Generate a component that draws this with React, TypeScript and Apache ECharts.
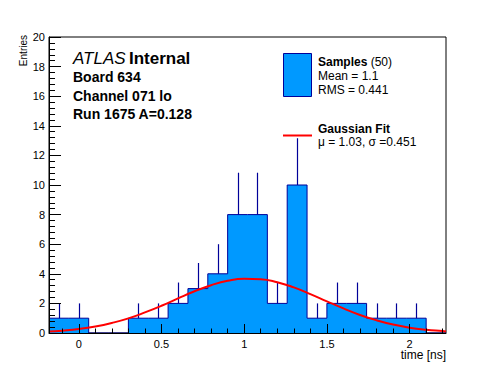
import React, { useEffect, useRef } from "react";
import * as echarts from "echarts";

// Histogram bins (time [ns])
const binWidth = 0.12;
const binCenters = [-0.12, 0.0, 0.12, 0.24, 0.36, 0.48, 0.6, 0.72, 0.84, 0.96, 1.08, 1.2, 1.32, 1.44, 1.56, 1.68, 1.8, 1.92, 2.04, 2.16];
const counts = [1, 1, 0, 0, 1, 1, 2, 3, 4, 8, 8, 2, 10, 1, 2, 2, 1, 1, 1, 0];
const errors = [1, 1, 0, 0, 1, 1, 1.41, 1.73, 2, 2.83, 2.83, 1.41, 3.16, 1, 1.41, 1.41, 1, 1, 1, 0];

// Gaussian fit curve
const fitX = [-0.18, -0.1, 0, 0.1, 0.2, 0.3, 0.4, 0.5, 0.6, 0.7, 0.8, 0.9, 1.0, 1.1, 1.2, 1.3, 1.4, 1.5, 1.6, 1.7, 1.8, 1.9, 2.0, 2.1, 2.2, 2.22];
const fitY = [0.1, 0.16, 0.27, 0.44, 0.68, 0.99, 1.39, 1.84, 2.34, 2.82, 3.23, 3.53, 3.67, 3.64, 3.43, 3.08, 2.63, 2.14, 1.66, 1.22, 0.86, 0.57, 0.36, 0.22, 0.13, 0.11];

// Axis ticks
const xMin = -0.18;
const xMax = 2.22;
const xMajorTicks = [0, 0.5, 1, 1.5, 2];
const xMinorTicks = [-0.1, 0.1, 0.2, 0.3, 0.4, 0.6, 0.7, 0.8, 0.9, 1.1, 1.2, 1.3, 1.4, 1.6, 1.7, 1.8, 1.9, 2.1, 2.2];
const yMin = 0;
const yMax = 20;
const yStep = 2;

const FONT = "'Liberation Sans', Arial, Helvetica, sans-serif";
const FILL = "#0099ff";
const EDGE = "#000099";

export default function App() {
  const ref = useRef<HTMLDivElement>(null);

  useEffect(() => {
    if (!ref.current) return;
    const chart = echarts.init(ref.current, null, { renderer: "svg" });

    const stepData: number[][] = binCenters.map((c, i) => [c - binWidth / 2, counts[i]]);
    stepData.push([binCenters[binCenters.length - 1] + binWidth / 2, 0]);

    const errData = binCenters
      .map((c, i) => [c, counts[i], errors[i]])
      .filter((d) => d[1] > 0);

    const fitData = fitX.map((x, i) => [x, fitY[i]]);

    const option: any = {
      animation: false,
      backgroundColor: "#fff",
      grid: {
        left: 49,
        right: 50,
        top: 37,
        bottom: 39,
        show: true,
        borderColor: "#000",
        borderWidth: 1,
        backgroundColor: "transparent",
      },
      xAxis: [
        {
          type: "value",
          min: xMin,
          max: xMax,
          position: "bottom",
          z: 10,
          axisLine: { show: true, onZero: false, lineStyle: { color: "#000", width: 1 } },
          axisTick: { show: true, inside: true, length: 9, customValues: xMajorTicks, lineStyle: { color: "#000" } },
          axisLabel: { show: true, customValues: xMajorTicks, fontSize: 11, color: "#000", margin: 5, fontFamily: FONT },
          splitLine: { show: false },
        },
        {
          type: "value",
          min: xMin,
          max: xMax,
          position: "bottom",
          z: 10,
          axisLine: { show: false, onZero: false },
          axisTick: { show: true, inside: true, length: 4.5, customValues: xMinorTicks, lineStyle: { color: "#000" } },
          axisLabel: { show: false },
          splitLine: { show: false },
        },
      ],
      yAxis: {
        type: "value",
        min: yMin,
        max: yMax,
        interval: yStep,
        z: 10,
        axisLine: { show: true, onZero: false, lineStyle: { color: "#000", width: 1 } },
        axisTick: { show: true, inside: true, length: 12, lineStyle: { color: "#000" } },
        minorTick: { show: true, splitNumber: 5, length: 6, lineStyle: { color: "#000" } },
        axisLabel: { fontSize: 11, color: "#000", margin: 4, fontFamily: FONT },
        splitLine: { show: false },
        minorSplitLine: { show: false },
      },
      series: [
        {
          type: "line",
          name: "Samples",
          xAxisIndex: 0,
          data: stepData,
          step: "end",
          symbol: "none",
          lineStyle: { color: EDGE, width: 1 },
          areaStyle: { color: FILL, opacity: 1 },
          z: 2,
        },
        {
          type: "custom",
          name: "errors",
          xAxisIndex: 0,
          data: errData,
          encode: { x: 0, y: 1 },
          z: 3,
          renderItem: (params: any, api: any) => {
            const x = api.value(0);
            const y = api.value(1);
            const e = api.value(2);
            const p0 = api.coord([x, y]);
            const p1 = api.coord([x, y + e]);
            const px = Math.round(p0[0]) + 0.5;
            return {
              type: "line",
              shape: { x1: px, y1: p0[1], x2: px, y2: p1[1] },
              style: { stroke: EDGE, lineWidth: 1.2 },
            };
          },
        },
        {
          type: "line",
          name: "Gaussian Fit",
          xAxisIndex: 0,
          data: fitData,
          smooth: true,
          symbol: "none",
          lineStyle: { color: "#ff0000", width: 2 },
          z: 4,
        },
      ],
      graphic: [
        {
          type: "text",
          x: 73,
          y: 58,
          style: {
            text: "{a|ATLAS} {b|Internal}",
            verticalAlign: "middle",
            rich: {
              a: { fontFamily: FONT, fontSize: 17, fontStyle: "italic", fill: "#000" },
              b: { fontFamily: FONT, fontSize: 17, fontWeight: "bold", fill: "#000" },
            },
          },
        },
        { type: "text", x: 73, y: 77, style: { text: "Board 634", font: `bold 14px ${FONT}`, fill: "#000", verticalAlign: "middle" } },
        { type: "text", x: 73, y: 96, style: { text: "Channel 071 lo", font: `bold 14px ${FONT}`, fill: "#000", verticalAlign: "middle" } },
        { type: "text", x: 73, y: 114, style: { text: "Run 1675 A=0.128", font: `bold 14px ${FONT}`, fill: "#000", verticalAlign: "middle" } },
        // legend
        { type: "rect", shape: { x: 283.5, y: 53.5, width: 28, height: 43 }, style: { fill: FILL, stroke: EDGE, lineWidth: 1 } },
        {
          type: "text",
          x: 318,
          y: 62,
          style: {
            text: "{b|Samples} {n|(50)}",
            verticalAlign: "middle",
            rich: {
              b: { fontFamily: FONT, fontSize: 12, fontWeight: "bold", fill: "#000" },
              n: { fontFamily: FONT, fontSize: 12, fill: "#000" },
            },
          },
        },
        { type: "text", x: 318, y: 76, style: { text: "Mean = 1.1", font: `12px ${FONT}`, fill: "#000", verticalAlign: "middle" } },
        { type: "text", x: 318, y: 90, style: { text: "RMS = 0.441", font: `12px ${FONT}`, fill: "#000", verticalAlign: "middle" } },
        { type: "line", shape: { x1: 283, y1: 135.5, x2: 312, y2: 135.5 }, style: { stroke: "#ff0000", lineWidth: 2 } },
        { type: "text", x: 318, y: 128.5, style: { text: "Gaussian Fit", font: `bold 12px ${FONT}`, fill: "#000", verticalAlign: "middle" } },
        { type: "text", x: 318, y: 141.5, style: { text: "\u03bc = 1.03, \u03c3 =0.451", font: `12px ${FONT}`, fill: "#000", verticalAlign: "middle" } },
        // axis titles
        { type: "text", x: 446, y: 355, style: { text: "time [ns]", font: `12px ${FONT}`, fill: "#000", align: "right", verticalAlign: "middle" } },
        {
          type: "text",
          x: 23,
          y: 35,
          rotation: Math.PI / 2,
          style: { text: "Entries", font: `10px ${FONT}`, fill: "#000", align: "right", verticalAlign: "middle" },
        },
      ],
    };

    chart.setOption(option);
    return () => {
      chart.dispose();
    };
  }, []);

  return (
    <div
      ref={ref}
      style={{ position: "fixed", left: 0, top: 0, width: 496, height: 372, background: "#fff" }}
    />
  );
}
